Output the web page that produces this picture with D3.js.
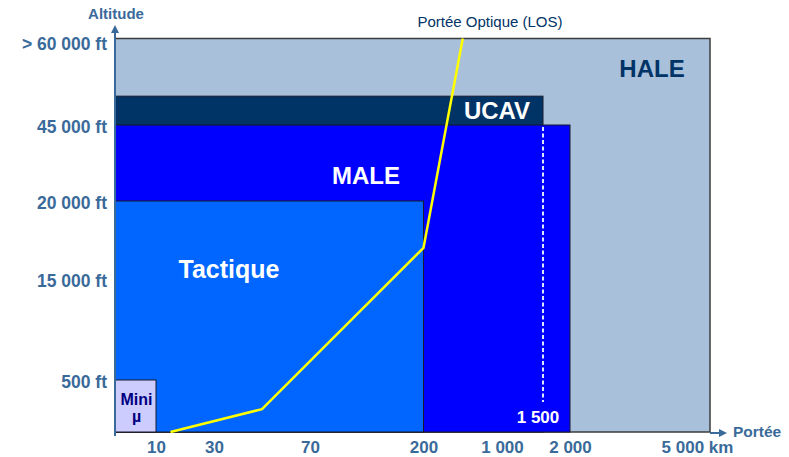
<!DOCTYPE html>
<html>
<head>
<meta charset="utf-8">
<script src="https://cdn.jsdelivr.net/npm/d3@7"></script>
<style>
  body { margin: 0; background: #fff; }
  text { font-family: "Liberation Sans", Arial, sans-serif; }
</style>
</head>
<body>
<script>
// portée (km) / altitude (ft)
const xTicks = [10, 30, 70, 200, 1000, 2000, 5000];
const xTickLabels = ["10", "30", "70", "200", "1 000", "2 000", "5 000 km"];
const yTicks = [500, 15000, 20000, 45000, 60000];
const yTickLabels = ["500 ft", "15 000 ft", "20 000 ft", "45 000 ft", "> 60 000 ft"];

// classes de drones : portée max, altitude max
const classes = ["HALE", "UCAV", "MALE", "Tactique", "Mini"];
const classRange = [5000, 1500, 2000, 200, 10];
const classAlt = [60000, 50000, 45000, 20000, 500];

// portée optique (LOS)
const losRange = [15, 50, 200, 600];
const losAlt = [0, 220, 17000, 60000];

const w = 789, h = 457;
const colors = {HALE: "#a8c0da", UCAV: "#003366", MALE: "#0000ff", Tactique: "#0066ff", Mini: "#ccccff"};
const axisColor = "#3a6a9a";

// echelles par morceaux (axe non lineaire)
const x = d3.scaleLinear()
  .domain([0, 10, 30, 70, 200, 1000, 1500, 2000, 5000])
  .range([115, 156, 214, 310, 423.5, 502, 543, 570, 710]);
const y = d3.scaleLinear()
  .domain([0, 500, 15000, 20000, 45000, 60000])
  .range([432, 380, 279, 201, 125, 38.5]);

const svg = d3.select("body").append("svg")
  .attr("width", w)
  .attr("height", h);

const rows = classes.map((c, i) => ({name: c, range: classRange[i], alt: classAlt[i]}));

svg.selectAll("rect.zone")
  .data(rows)
  .enter()
  .append("rect")
  .attr("class", "zone")
  .attr("x", x(0))
  .attr("y", d => y(d.alt))
  .attr("width", d => x(d.range) - x(0))
  .attr("height", d => y(0) - y(d.alt))
  .attr("fill", d => colors[d.name])
  .attr("stroke", d => d.name == "HALE" ? "#3c3c3c" : "#1a1a2a")
  .attr("stroke-width", d => d.name == "HALE" ? 1.5 : 1);

// trait pointille 1 500 km
svg.append("line")
  .attr("x1", x(1500)).attr("x2", x(1500))
  .attr("y1", y(45000) + 2).attr("y2", 402)
  .attr("stroke", "#dde6ff")
  .attr("stroke-width", 2)
  .attr("stroke-dasharray", "4,2.5");

svg.append("text")
  .attr("x", x(1500) - 5).attr("y", 423)
  .attr("text-anchor", "middle")
  .attr("fill", "#fff")
  .attr("font-weight", "bold")
  .attr("font-size", "17px")
  .text("1 500");

// LOS
const line = d3.line().x(d => x(d[0])).y(d => y(d[1]));
svg.append("path")
  .datum(losRange.map((r, i) => [r, losAlt[i]]))
  .attr("d", line)
  .attr("fill", "none")
  .attr("stroke", "#ffff00")
  .attr("stroke-width", 2.5);

svg.append("text")
  .attr("x", 490).attr("y", 27)
  .attr("text-anchor", "middle")
  .attr("fill", "#003366")
  .attr("font-size", "15px")
  .text("Portée Optique (LOS)");

// libelles des classes
const big = (txt, px, py, col) => svg.append("text")
  .attr("x", px).attr("y", py)
  .attr("text-anchor", "middle")
  .attr("fill", col)
  .attr("font-weight", "bold")
  .attr("font-size", "24px")
  .text(txt);
big("HALE", x(5000) - 58, y(60000) + 38, "#003366");
big("UCAV", x(1500) - 46, y(50000) + 23, "#fff");
big("MALE", 366, y(45000) + 59, "#fff");
big("Tactique", 229, y(20000) + 77, "#fff").attr("font-size", "25px");

svg.append("text")
  .attr("x", (x(0) + x(10)) / 2 + 1).attr("y", 405)
  .attr("text-anchor", "middle")
  .attr("fill", "#000080")
  .attr("font-weight", "bold")
  .attr("font-size", "16px")
  .text("Mini");
svg.append("text")
  .attr("x", (x(0) + x(10)) / 2 + 1).attr("y", 422)
  .attr("text-anchor", "middle")
  .attr("fill", "#000080")
  .attr("font-weight", "bold")
  .attr("font-size", "16px")
  .text("µ");

// axes
const xAxis = d3.axisBottom(x)
  .tickValues(xTicks)
  .tickFormat((d, i) => xTickLabels[i])
  .tickSize(0)
  .tickPadding(9);
const gx = svg.append("g")
  .attr("transform", "translate(0," + y(0) + ")")
  .call(xAxis);
gx.select(".domain").remove();
gx.selectAll("text")
  .attr("fill", axisColor)
  .attr("font-size", "17px")
  .attr("font-weight", "bold")
  .attr("font-family", "Liberation Sans, Arial, sans-serif")
  .attr("dx", (d, i) => i == xTicks.length - 1 ? "-13px" : 0);

const yAxis = d3.axisLeft(y)
  .tickValues(yTicks)
  .tickFormat((d, i) => yTickLabels[i])
  .tickSize(0)
  .tickPadding(8);
const gy = svg.append("g")
  .attr("transform", "translate(" + x(0) + ",0)")
  .call(yAxis);
gy.select(".domain").remove();
gy.selectAll("text")
  .attr("fill", axisColor)
  .attr("font-size", "17.5px")
  .attr("font-weight", "bold")
  .attr("font-family", "Liberation Sans, Arial, sans-serif")
  .attr("dy", (d, i) => i == yTicks.length - 1 ? "0.65em" : "0.45em");

// fleches
svg.append("line")
  .attr("x1", x(0)).attr("x2", x(0))
  .attr("y1", 436).attr("y2", 32)
  .attr("stroke", axisColor).attr("stroke-width", 2);
svg.append("path")
  .attr("d", "M" + (x(0) - 4) + ",33L" + x(0) + ",25L" + (x(0) + 4) + ",33Z")
  .attr("fill", axisColor);

svg.append("line")
  .attr("x1", x(5000)).attr("x2", 720)
  .attr("y1", y(0) + 1).attr("y2", y(0) + 1)
  .attr("stroke", axisColor).attr("stroke-width", 2);
svg.append("path")
  .attr("d", "M719," + (y(0) - 3) + "L727," + (y(0) + 1) + "L719," + (y(0) + 5) + "Z")
  .attr("fill", axisColor);

svg.append("text")
  .attr("x", 116).attr("y", 18.5)
  .attr("text-anchor", "middle")
  .attr("fill", axisColor)
  .attr("font-weight", "bold")
  .attr("font-size", "15px")
  .text("Altitude");

svg.append("text")
  .attr("x", 733).attr("y", 437)
  .attr("fill", axisColor)
  .attr("font-weight", "bold")
  .attr("font-size", "15.5px")
  .text("Portée");
</script>
</body>
</html>
